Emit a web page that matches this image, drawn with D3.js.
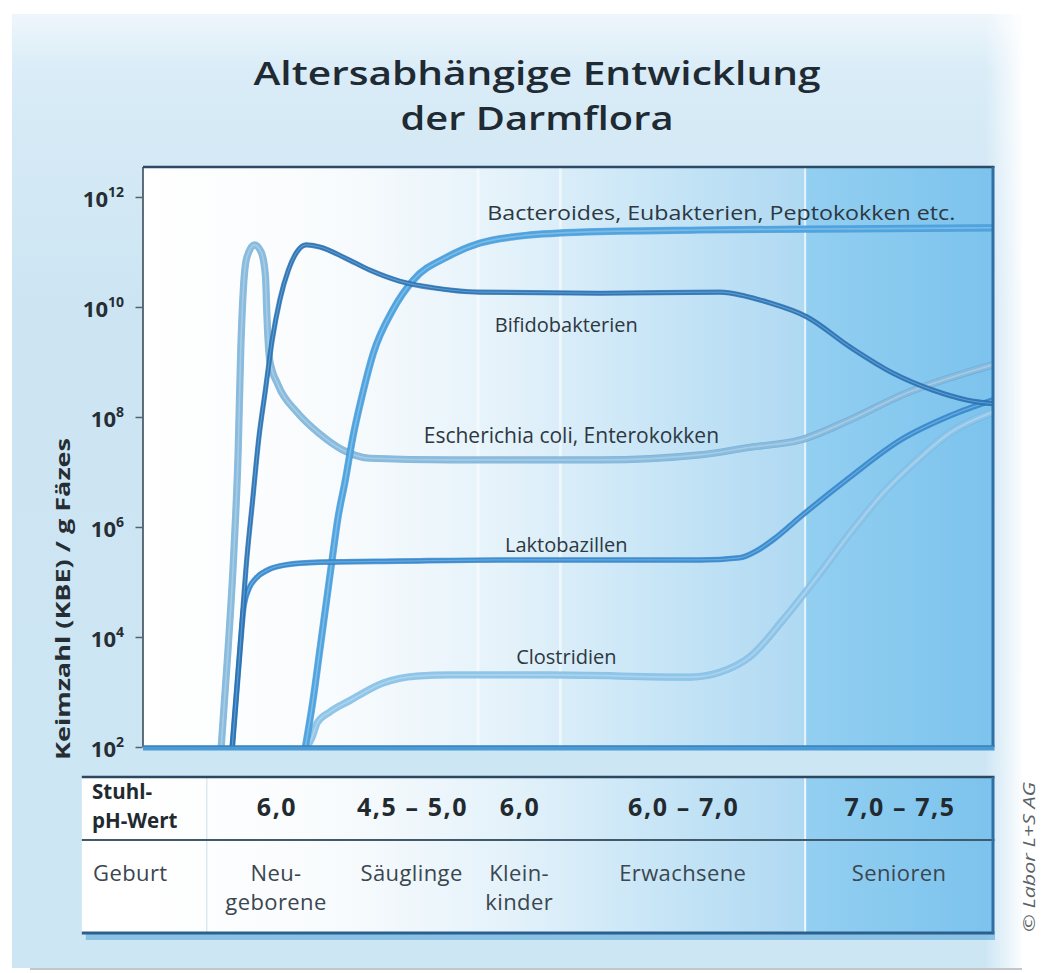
<!DOCTYPE html>
<html><head><meta charset="utf-8">
<script src="https://cdn.jsdelivr.net/npm/d3@7"></script>
<style>
body{margin:0;background:#fff}
svg{display:block}
text{font-family:"Open Sans","Noto Sans","DejaVu Sans",sans-serif}
</style>
</head><body><div id="chart"></div>
<script>
// ---------------- data ----------------
const titleLines = ["Altersabhängige Entwicklung", "der Darmflora"];
const yAxisTitle = "Keimzahl (KBE) / g Fäzes";
const yTickExponents = [2, 4, 6, 8, 10, 12];
const copyright = "© Labor L+S AG";

// x: relative position along the life span (0 = left edge of chart, 100 = right edge)
// values: log10 of germ count per g faeces
const bacteroidesName = "Bacteroides, Eubakterien, Peptokokken etc.";
const bacteroidesX = [19.1,20.0,20.8,21.6,22.4,22.9,23.8,24.7,25.8,27.1,29.4,31.8,35.8,39.6,44.4,51.4,65.5,83.2,100];
const bacteroidesLog = [2.00,2.85,3.76,4.67,5.58,6.13,6.85,7.64,8.40,9.16,9.95,10.49,10.91,11.16,11.29,11.36,11.40,11.42,11.44];

const bifidoName = "Bifidobakterien";
const bifidoX = [10.5,11.4,12.2,12.9,13.6,14.4,15.2,16.1,17.1,18.1,19.2,20.8,23.8,26.7,30.2,34.1,39.6,53.8,67.9,70.8,73.4,78.1,83.2,88.2,92.9,96.9,100];
const bifidoLog = [2.00,3.76,5.40,6.49,7.58,8.49,9.40,10.13,10.67,11.00,11.13,11.09,10.89,10.67,10.47,10.35,10.27,10.25,10.27,10.20,10.09,9.82,9.27,8.80,8.49,8.31,8.24];

const ecoliName = "Escherichia coli, Enterokokken";
const ecoliX = [9.2,10.0,10.7,11.2,11.5,11.8,12.2,13.1,13.9,14.4,14.6,14.9,15.9,18.1,20.8,23.5,26.7,36.1,53.8,65.5,71.4,77.3,83.2,89.9,94.9,100];
const ecoliLog = [2.00,3.76,5.58,7.40,9.22,10.31,10.89,11.13,11.00,10.58,9.76,9.04,8.58,8.09,7.69,7.40,7.25,7.22,7.22,7.31,7.45,7.58,7.95,8.44,8.71,8.95];

const laktoName = "Laktobazillen";
const laktoX = [10.5,11.4,11.9,12.5,13.3,14.7,16.7,20.8,30.2,42.0,65.5,70.2,72.0,74.4,77.3,83.2,89.1,94.9,100];
const laktoLog = [2.00,3.76,4.58,4.89,5.07,5.22,5.31,5.36,5.38,5.40,5.40,5.44,5.55,5.80,6.18,6.91,7.58,8.02,8.31];

const clostName = "Clostridien";
const clostX = [19.3,19.9,20.5,22.0,24.4,28.2,32.2,36.1,47.9,64.4,67.9,71.4,75.3,79.3,83.2,87.1,91.1,94.9,100];
const clostLog = [2.00,2.18,2.44,2.64,2.85,3.16,3.29,3.31,3.31,3.27,3.36,3.64,4.31,5.09,5.89,6.62,7.22,7.71,8.09];

// life phases (table below the chart)
const phaseLabel = ["Geburt", "Neu-|geborene", "Säuglinge", "Klein-|kinder", "Erwachsene", "Senioren"];
const phasePH = ["", "6,0", "4,5 – 5,0", "6,0", "6,0 – 7,0", "7,0 – 7,5"];
const phaseBounds = [-7.2, 7.5, 23.8, 39.4, 49.1, 77.9, 100];
const phHeader = ["Stuhl-", "pH-Wert"];

// ---------------- layout ----------------
const W = 1044, H = 973;
const P = {left: 143, right: 993, top: 167, bottom: 747};
const T = {top: 777, mid: 840, bottom: 933};

const svg = d3.select("#chart").append("svg").attr("width", W).attr("height", H);
const defs = svg.append("defs");

function linGrad(id, x1, y1, x2, y2, stops, user) {
  const g = defs.append("linearGradient").attr("id", id)
    .attr("x1", x1).attr("y1", y1).attr("x2", x2).attr("y2", y2);
  if (user) g.attr("gradientUnits", "userSpaceOnUse");
  stops.forEach(s => g.append("stop").attr("offset", s[0]).attr("stop-color", s[1]).attr("stop-opacity", s[2] == null ? 1 : s[2]));
}
linGrad("panelG", 0, 0, 0, 1, [[0, "#eef6fb"], [0.06, "#d9ecf7"], [0.3, "#cde5f3"], [1, "#cde6f4"]]);
linGrad("rightFade", 0, 0, 1, 0, [[0, "#ffffff", 0], [1, "#ffffff", 1]]);
linGrad("plotG", 143, 0, 805, 0, [[0, "#ffffff"], [0.3, "#f8fbfd"], [0.55, "#e4f2fa"], [0.8, "#c5e4f6"], [1, "#afd9f2"]], true);
linGrad("seniorG", 0, 0, 1, 0, [[0, "#93cff1"], [1, "#7cc3ed"]]);

const x = d3.scaleLinear().domain([0, 100]).range([P.left, P.right]);
const y = d3.scaleLog().domain([1e2, Math.pow(10, 12.545)]).range([P.bottom, P.top]);

// background panel
svg.append("rect").attr("width", W).attr("height", H).attr("fill", "#fff");
svg.append("rect").attr("x", 12).attr("y", 14).attr("width", 1010).attr("height", 954).attr("fill", "url(#panelG)");
svg.append("rect").attr("x", 985).attr("y", 14).attr("width", 40).attr("height", 954).attr("fill", "url(#rightFade)");
svg.append("line").attr("x1", 30).attr("x2", 1022).attr("y1", 969).attr("y2", 969).attr("stroke", "#9aa3aa").attr("stroke-width", 2).attr("opacity", 0.6);

// title
titleLines.forEach((t, i) => {
  svg.append("text").attr("x", 537).attr("y", 85 + i * 45)
    .attr("text-anchor", "middle").attr("font-size", 33).attr("font-weight", 600)
    .attr("fill", "#1f2a33")
    .attr("textLength", i === 0 ? 567 : 273).attr("lengthAdjust", "spacingAndGlyphs")
    .text(t);
});

// plot background
svg.append("rect").attr("x", P.left).attr("y", P.top).attr("width", x(phaseBounds[5]) - P.left).attr("height", P.bottom - P.top).attr("fill", "url(#plotG)");
svg.append("rect").attr("x", x(phaseBounds[5])).attr("y", P.top).attr("width", P.right - x(phaseBounds[5])).attr("height", P.bottom - P.top).attr("fill", "url(#seniorG)");
[1, 3, 4].forEach(i => {
  svg.append("line").attr("x1", x(phaseBounds[i])).attr("x2", x(phaseBounds[i])).attr("y1", P.top).attr("y2", P.bottom)
    .attr("stroke", "#ffffff").attr("stroke-width", 3).attr("opacity", 0.5);
});
svg.append("line").attr("x1", x(phaseBounds[5])).attr("x2", x(phaseBounds[5])).attr("y1", P.top).attr("y2", P.bottom)
  .attr("stroke", "#eef8fd").attr("stroke-width", 2).attr("opacity", 0.9);

// curves
const series = [
  {name: clostName, xs: clostX, vs: clostLog, color: "#8ec5e9", edge: "#6fb0dd", w: 6},
  {name: ecoliName, xs: ecoliX, vs: ecoliLog, color: "#88bbdd", edge: "#5f9fcf", w: 6},
  {name: bacteroidesName, xs: bacteroidesX, vs: bacteroidesLog, color: "#4fa4df", edge: "#3b8fd0", w: 6},
  {name: laktoName, xs: laktoX, vs: laktoLog, color: "#3a8dd0", edge: "#2c7bc0", w: 4.5},
  {name: bifidoName, xs: bifidoX, vs: bifidoLog, color: "#2d78bb", edge: "#225f9a", w: 4}
];
const line = d3.line().x(d => x(d[0])).y(d => y(Math.pow(10, d[1]))).curve(d3.curveMonotoneX);
const gCurves = svg.append("g");
series.forEach(s => {
  const pts = s.xs.map((v, i) => [v, s.vs[i]]);
  gCurves.append("path").attr("d", line(pts)).attr("fill", "none")
    .attr("stroke", s.edge).attr("stroke-width", s.w + 1.2).attr("stroke-linejoin", "round").attr("opacity", 0.7);
  gCurves.append("path").attr("d", line(pts)).attr("fill", "none")
    .attr("stroke", s.color).attr("stroke-width", s.w).attr("stroke-linejoin", "round");
  gCurves.append("path").attr("d", line(pts)).attr("fill", "none")
    .attr("stroke", "#ffffff").attr("stroke-width", s.w * 0.28).attr("opacity", 0.25);
});

// frame
svg.append("line").attr("x1", P.left).attr("x2", P.left).attr("y1", P.top).attr("y2", P.bottom).attr("stroke", "#3b4b57").attr("stroke-width", 1.6);
svg.append("line").attr("x1", P.left).attr("x2", P.right + 1.5).attr("y1", P.top).attr("y2", P.top).attr("stroke", "#2c4a66").attr("stroke-width", 2.5);
svg.append("line").attr("x1", P.right).attr("x2", P.right).attr("y1", P.top).attr("y2", P.bottom).attr("stroke", "#2f6fa6").attr("stroke-width", 3);
svg.append("line").attr("x1", P.left).attr("x2", P.right + 1.5).attr("y1", P.bottom + 1).attr("y2", P.bottom + 1).attr("stroke", "#4a9bd6").attr("stroke-width", 5);
svg.append("line").attr("x1", P.left).attr("x2", P.right + 1.5).attr("y1", P.bottom - 1).attr("y2", P.bottom - 1).attr("stroke", "#2f74ad").attr("stroke-width", 1.2);

// y axis
const yAxis = d3.axisLeft(y).tickValues(yTickExponents.map(e => Math.pow(10, e))).tickSize(7).tickFormat("");
const gy = svg.append("g").attr("transform", `translate(${P.left - 0.5},0)`).call(yAxis);
gy.select(".domain").remove();
gy.selectAll(".tick line").attr("stroke", "#55626b").attr("stroke-width", 1.5);
yTickExponents.forEach(e => {
  const t = svg.append("text").attr("x", 124).attr("y", y(Math.pow(10, e)) + 10)
    .attr("text-anchor", "end").attr("fill", "#262d33").attr("font-weight", 700);
  t.append("tspan").attr("font-size", 22).text("10");
  t.append("tspan").attr("font-size", 14).attr("dy", -10).text(String(e));
});
svg.append("text").attr("transform", `translate(70,599) rotate(-90)`)
  .attr("text-anchor", "middle").attr("font-size", 20).attr("font-weight", 700).attr("fill", "#262d33")
  .attr("textLength", 322).attr("lengthAdjust", "spacingAndGlyphs")
  .text(yAxisTitle);

// curve labels
const labelFont = 20;
svg.append("text").attr("x", x(40.5)).attr("y", y(Math.pow(10, 11.58)))
  .attr("font-size", labelFont).attr("fill", "#2d3842").attr("textLength", 468).attr("lengthAdjust", "spacingAndGlyphs")
  .text(bacteroidesName);
[[bifidoName, 9.55, 49.8, 20], [ecoliName, 7.53, 50.4, 21], [laktoName, 5.55, 49.8, 20], [clostName, 3.51, 49.8, 20]].forEach(d => {
  svg.append("text").attr("x", x(d[2])).attr("y", y(Math.pow(10, d[1])))
    .attr("text-anchor", "middle").attr("font-size", d[3]).attr("fill", "#2d3842").text(d[0]);
});

// table
const tLeft = x(phaseBounds[0]);
svg.append("rect").attr("x", tLeft).attr("y", T.top).attr("width", x(phaseBounds[5]) - tLeft).attr("height", T.bottom - T.top).attr("fill", "url(#plotG)");
svg.append("rect").attr("x", x(phaseBounds[5])).attr("y", T.top).attr("width", P.right - x(phaseBounds[5])).attr("height", T.bottom - T.top).attr("fill", "url(#seniorG)");
svg.append("line").attr("x1", x(phaseBounds[1])).attr("x2", x(phaseBounds[1])).attr("y1", T.top).attr("y2", T.bottom).attr("stroke", "#dfe8ee").attr("stroke-width", 1.5);
svg.append("line").attr("x1", x(phaseBounds[5])).attr("x2", x(phaseBounds[5])).attr("y1", T.top).attr("y2", T.bottom).attr("stroke", "#eef8fd").attr("stroke-width", 2);
svg.append("rect").attr("x", tLeft + 4).attr("y", T.bottom + 1).attr("width", P.right - tLeft - 2).attr("height", 6).attr("fill", "#6eb2e0").attr("opacity", 0.7);
svg.append("line").attr("x1", tLeft).attr("x2", P.right + 1.5).attr("y1", T.top).attr("y2", T.top).attr("stroke", "#2c4860").attr("stroke-width", 2.5);
svg.append("line").attr("x1", tLeft).attr("x2", P.right + 1.5).attr("y1", T.mid).attr("y2", T.mid).attr("stroke", "#40596b").attr("stroke-width", 2);
svg.append("line").attr("x1", tLeft).attr("x2", P.right + 1.5).attr("y1", T.bottom).attr("y2", T.bottom).attr("stroke", "#2b5f8d").attr("stroke-width", 3);
svg.append("line").attr("x1", P.right).attr("x2", P.right).attr("y1", T.top).attr("y2", T.bottom).attr("stroke", "#2f6fa6").attr("stroke-width", 3);

phHeader.forEach((t, i) => {
  svg.append("text").attr("x", 92).attr("y", 799 + i * 29).attr("font-size", 20.5).attr("font-weight", 700)
    .attr("fill", "#222a30").text(t);
});
phasePH.forEach((t, i) => {
  if (!t) return;
  const cx = (x(phaseBounds[i]) + x(phaseBounds[i + 1])) / 2;
  svg.append("text").attr("x", cx + 1).attr("y", 816).attr("text-anchor", "middle")
    .attr("font-size", 25).attr("font-weight", 700).attr("letter-spacing", 1.6).attr("fill", "#222a30").text(t);
});
phaseLabel.forEach((t, i) => {
  const parts = t.split("|");
  const cx = (x(phaseBounds[i]) + x(phaseBounds[i + 1])) / 2;
  parts.forEach((p, j) => {
    svg.append("text").attr("x", i === 0 ? 93 : cx).attr("y", 881 + j * 29)
      .attr("text-anchor", i === 0 ? "start" : "middle").attr("font-size", 22).attr("letter-spacing", 0.4)
      .attr("fill", "#3a4650").text(p);
  });
});

// copyright
svg.append("text").attr("transform", "translate(1035,857) rotate(-90)").attr("text-anchor", "middle")
  .attr("font-size", 16).attr("font-style", "italic").attr("fill", "#5a6268")
  .attr("textLength", 150).attr("lengthAdjust", "spacingAndGlyphs").text(copyright);
</script>
</body></html>
